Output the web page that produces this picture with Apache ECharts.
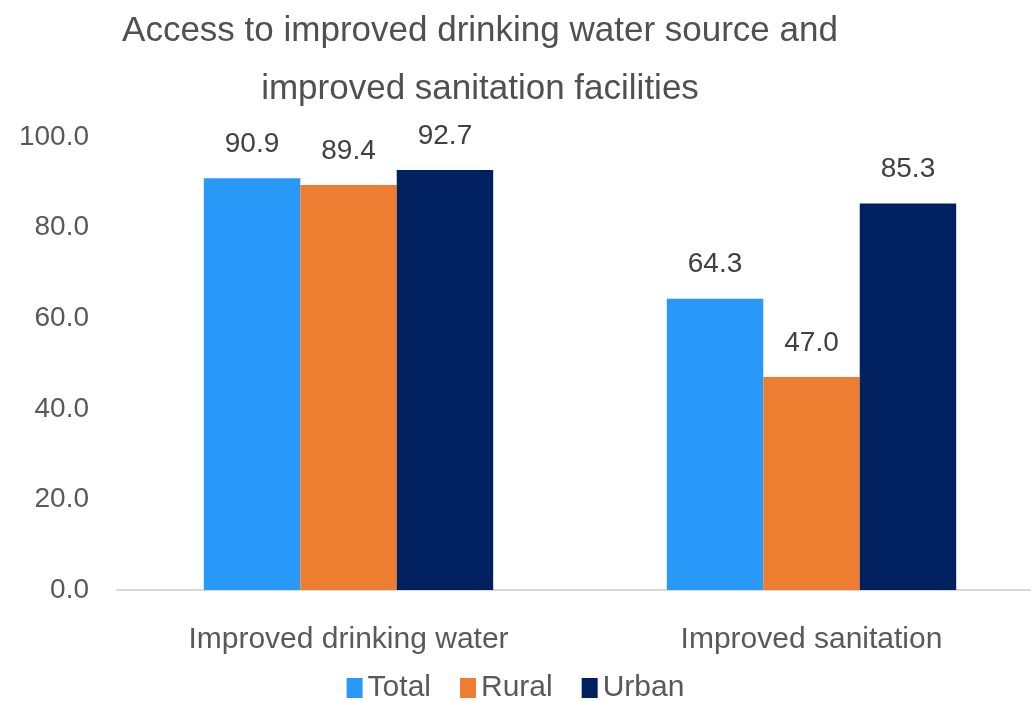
<!DOCTYPE html>
<html>
<head>
<meta charset="utf-8">
<script src="https://cdn.jsdelivr.net/npm/echarts@6/dist/echarts.min.js"></script>
<style>
  html, body { margin: 0; padding: 0; background: #fff; }
  #chart { width: 1031px; height: 701px; }
</style>
</head>
<body>
<div id="chart"></div>
<script>
// Access indicators (%), by area of residence
const categories = ['Improved drinking water', 'Improved sanitation'];
const totalValues = [90.9, 64.3];
const ruralValues = [89.4, 47.0];
const urbanValues = [92.7, 85.3];
const seriesNames = ['Total', 'Rural', 'Urban'];
const yTicks = [0, 20, 40, 60, 80, 100];

const FONT = "'Liberation Sans', Arial, sans-serif";
const colors = ['#2899F9', '#ED7D31', '#002060'];

const valueLabel = {
  show: true,
  position: 'top',
  distance: 20,
  fontFamily: FONT,
  fontSize: 28,
  color: '#404040',
  formatter: p => p.value.toFixed(1)
};

function barSeries(name, data, color) {
  return {
    name: name,
    type: 'bar',
    data: data,
    barGap: '0%',
    barCategoryGap: '37.5%',
    itemStyle: { color: color },
    label: valueLabel
  };
}

const chart = echarts.init(document.getElementById('chart'));
chart.setOption({
  animation: false,
  title: {
    text: 'Access to improved drinking water source and\nimproved sanitation facilities',
    left: 475,
    top: -3,
    textAlign: 'center',
    textStyle: {
      fontFamily: FONT,
      fontSize: 35,
      fontWeight: 'normal',
      color: '#505050',
      lineHeight: 58
    }
  },
  legend: {
    data: seriesNames,
    left: 'center',
    top: 668,
    icon: 'rect',
    itemWidth: 16,
    itemHeight: 20,
    itemGap: 29,
    textStyle: { fontFamily: FONT, fontSize: 30, color: '#595959' }
  },
  grid: {
    left: 117,
    right: -12,
    top: 137,
    bottom: 111,
    containLabel: false,
    outerBoundsMode: 'none'
  },
  xAxis: {
    type: 'category',
    data: categories,
    axisTick: { show: false },
    axisLine: { lineStyle: { color: '#d9d9d9', width: 2 } },
    axisLabel: {
      margin: 35,
      fontFamily: FONT,
      fontSize: 30,
      color: '#595959'
    }
  },
  yAxis: {
    type: 'value',
    min: yTicks[0],
    max: yTicks[yTicks.length - 1],
    interval: yTicks[1] - yTicks[0],
    splitLine: { show: false },
    axisLine: { show: false },
    axisTick: { show: false },
    axisLabel: {
      margin: 28,
      fontFamily: FONT,
      fontSize: 28,
      color: '#595959',
      formatter: v => v.toFixed(1)
    }
  },
  series: [
    barSeries(seriesNames[0], totalValues, colors[0]),
    barSeries(seriesNames[1], ruralValues, colors[1]),
    barSeries(seriesNames[2], urbanValues, colors[2])
  ]
});
</script>
</body>
</html>
